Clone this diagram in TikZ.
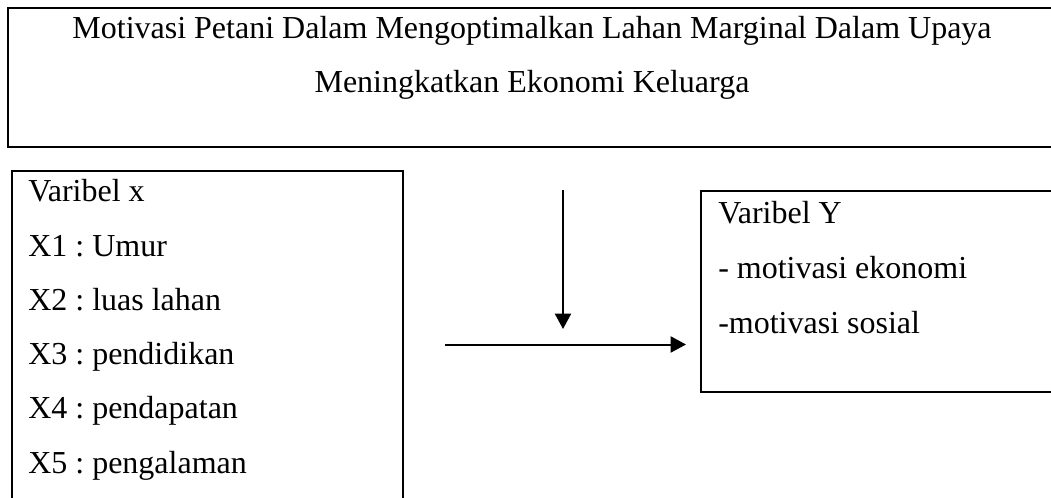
\documentclass[tikz,border=0pt]{standalone}
\usepackage{fontspec}
\setmainfont{Liberation Serif}
\frenchspacing
\usetikzlibrary{arrows.meta}
\tikzset{
  box/.style={draw, line width=1.5pt, rectangle, inner sep=0pt},
  txt/.style={anchor=base west, inner sep=0pt, font=\fontsize{24}{28}\selectfont},
  ttl/.style={anchor=base, inner sep=0pt, font=\fontsize{24}{28}\selectfont},
  arr/.style={line width=1.5pt, -{Triangle[length=11.5pt,width=12pt]}}
}
\begin{document}
\begin{tikzpicture}[x=0.75pt,y=-0.75pt]
\useasboundingbox (0,0) rectangle (1051,497);
\clip (0,0) rectangle (1051,497);
% boxes
\node[box, minimum width=1048*0.75pt, minimum height=139*0.75pt] (topbox) at (532,77.5) {};
\node[box, minimum width=391*0.75pt, minimum height=360*0.75pt] (xbox) at (207.5,351) {};
\node[box, minimum width=360*0.75pt, minimum height=201*0.75pt] (ybox) at (881,291.5) {};
% title
\node[ttl] (t1) at (532,38) {Motivasi Petani Dalam Mengoptimalkan Lahan Marginal Dalam Upaya};
\node[ttl] (t2) at (532,92.3) {Meningkatkan Ekonomi Keluarga};
% left text
\node[txt] (x0) at (28,201.7) {Varibel x};
\node[txt] (x1) at (28,256) {X1 : Umur};
\node[txt] (x2) at (28,310.3) {X2 : luas lahan};
\node[txt] (x3) at (28,364.6) {X3 : pendidikan};
\node[txt] (x4) at (28,418.9) {X4 : pendapatan};
\node[txt] (x5) at (28,473.2) {X5 : pengalaman};
% right text
\node[txt] (y0) at (718,223) {Varibel Y};
\node[txt] (y1) at (718,278) {- motivasi ekonomi};
\node[txt] (y2) at (718,333) {-motivasi sosial};
% arrows
\coordinate (vs) at (563,190);
\coordinate (ve) at (563,329);
\coordinate (hs) at (445,344.5);
\coordinate (he) at (686,344.5);
\draw[arr] (vs) -- (ve);
\draw[arr] (hs) -- (he);
\end{tikzpicture}
\end{document}
